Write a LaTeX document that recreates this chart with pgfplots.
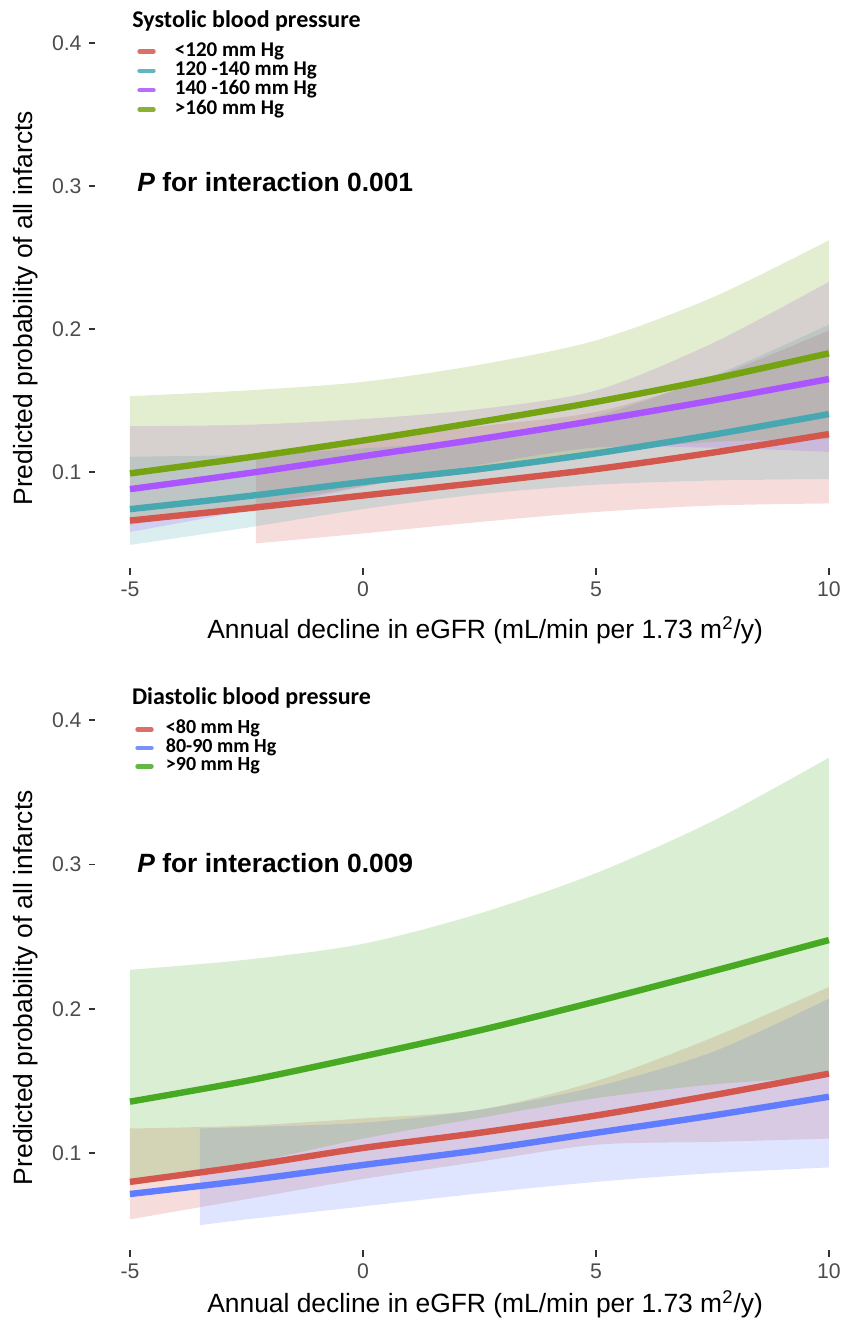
\documentclass[border=0pt]{standalone}
\usepackage{pgfplots}
\pgfplotsset{compat=1.18}
\usepackage{pgfplotstable}
\usepgfplotslibrary{fillbetween}
\usepackage{fontspec}
\setmainfont{Liberation Sans}
\newfontfamily\carlito{Carlito}

\definecolor{cred}{RGB}{212,87,77}
\definecolor{ccyan}{RGB}{72,168,178}
\definecolor{cpurple}{RGB}{170,85,255}
\definecolor{colive}{RGB}{117,163,18}
\definecolor{cblue}{RGB}{97,125,255}
\definecolor{cgreen}{RGB}{72,170,35}

% ---------- Systolic panel ----------
\pgfplotstableread{
x y
-5 0.066
-2.5 0.0745
0 0.0835
2.5 0.0925
5 0.102
7.5 0.1135
10 0.1265
}\sA
\pgfplotstableread{
x lo hi
-2.3 0.050 0.113
0 0.057 0.122
2.5 0.065 0.132
5 0.072 0.142
7.5 0.0765 0.166
10 0.078 0.199
}\sAband
\pgfplotstableread{
x y lo hi
-5 0.074 0.049 0.1107
-2.5 0.083 0.061 0.112
0 0.093 0.074 0.1165
2.5 0.102 0.0844 0.123
5 0.113 0.091 0.139
7.5 0.126 0.094 0.167
10 0.1405 0.095 0.203
}\sB
\pgfplotstableread{
x y lo hi
-5 0.088 0.058 0.132
-2.5 0.099 0.073 0.133
0 0.111 0.0896 0.137
2.5 0.123 0.105 0.144
5 0.136 0.117 0.157
7.5 0.150 0.117 0.190
10 0.165 0.114 0.233
}\sC
\pgfplotstableread{
x y lo hi
-5 0.099 0.063 0.153
-2.5 0.110 0.0757 0.157
0 0.122 0.090 0.163
2.5 0.135 0.103 0.175
5 0.149 0.114 0.192
7.5 0.165 0.121 0.222
10 0.183 0.123 0.262
}\sD

% ---------- Diastolic panel ----------
\pgfplotstableread{
x y lo hi
-5 0.080 0.054 0.117
-2.5 0.091 0.068 0.119
0 0.1035 0.082 0.124
2.5 0.114 0.094 0.130
5 0.126 0.1057 0.1498
7.5 0.140 0.1077 0.180
10 0.155 0.110 0.215
}\dA
\pgfplotstableread{
x y
-5 0.0716
-2.5 0.081
0 0.0917
2.5 0.102
5 0.114
7.5 0.126
10 0.139
}\dB
\pgfplotstableread{
x lo hi
-3.5 0.050 0.117
-2.5 0.054 0.118
0 0.063 0.121
2.5 0.072 0.130
5 0.080 0.146
7.5 0.086 0.170
10 0.090 0.207
}\dBband
\pgfplotstableread{
x y lo hi
-5 0.1356 0.0775 0.227
-2.5 0.150 0.0925 0.234
0 0.167 0.110 0.245
2.5 0.185 0.1243 0.266
5 0.205 0.138 0.294
7.5 0.226 0.1475 0.330
10 0.2476 0.153 0.374
}\dC

\pgfplotsset{
  panel/.style={
    anchor=south west, scale only axis, width=375.1pt,
    xmin=-5.75, xmax=10.35, ymin=0.0325, ymax=0.4175,
    clip mode=individual,
    axis x line*=bottom, axis y line*=left,
    axis line style={draw=none,-},
    tick align=outside, major tick length=3.2pt,
    tick style={color=black!80, line width=0.8pt},
    xtick={-5,0,5,10}, xticklabels={-5,0,5,10},
    ytick={0.1,0.2,0.3,0.4}, yticklabels={0.1,0.2,0.3,0.4},
    ticklabel style={font=\fontsize{10.6}{12}\selectfont, text=black!70},
    xlabel={Annual decline in eGFR (mL/min per 1.73 m\textsuperscript{2}/y)},
    ylabel={Predicted probability of all infarcts},
    every axis x label/.style={at={(axis description cs:0.52,0)}, anchor=center,
      font=\fontsize{13.2}{15}\selectfont},
    every axis y label/.style={at={(axis description cs:-0.092,0.473)}, rotate=90,
      anchor=center, font=\fontsize{13.2}{15}\selectfont},
    legend cell align=left,
    legend image code/.code={\draw[#1] (0pt,0pt) -- (7pt,0pt);},
  },
  band/.style={fill=#1, fill opacity=0.2, draw=none, forget plot},
  bline/.style={draw=#1, line width=3.2pt, smooth, forget plot},
  nop/.style={draw=none, smooth, forget plot},
}

\begin{document}
\begin{tikzpicture}

\begin{axis}[panel, at={(47.5pt,378.75pt)}, height=275.25pt,
  xlabel style={yshift=-30.75pt},
  legend style={at={(axis cs:-4.85,0.4012)}, anchor=north west, draw=none, fill=none,
    inner sep=0pt, row sep=0pt,
    font=\carlito\bfseries\fontsize{10.5}{10}\selectfont,
    nodes={inner sep=0.3pt, text height=6.9pt, text depth=2.2pt},
    /tikz/every odd column/.append style={column sep=9.3pt}}]
  % bands
  \addplot[nop, name path=aU] table[x=x,y=hi]{\sAband};
  \addplot[nop, name path=aL] table[x=x,y=lo]{\sAband};
  \addplot[band=cred] fill between[of=aU and aL];
  \addplot[nop, name path=bU] table[x=x,y=hi]{\sB};
  \addplot[nop, name path=bL] table[x=x,y=lo]{\sB};
  \addplot[band=ccyan] fill between[of=bU and bL];
  \addplot[nop, name path=cU] table[x=x,y=hi]{\sC};
  \addplot[nop, name path=cL] table[x=x,y=lo]{\sC};
  \addplot[band=cpurple] fill between[of=cU and cL];
  \addplot[nop, name path=dU] table[x=x,y=hi]{\sD};
  \addplot[nop, name path=dL] table[x=x,y=lo]{\sD};
  \addplot[band=colive] fill between[of=dU and dL];
  % lines
  \addplot[bline=cred] table[x=x,y=y]{\sA};
  \addplot[bline=ccyan] table[x=x,y=y]{\sB};
  \addplot[bline=cpurple] table[x=x,y=y]{\sC};
  \addplot[bline=colive] table[x=x,y=y]{\sD};
  % legend
  \addlegendimage{draw=cred!85, line width=2.2pt, line cap=round}
  \addlegendentry{<120 mm Hg}
  \addlegendimage{draw=ccyan!85, line width=2.2pt, line cap=round}
  \addlegendentry{120 -140 mm Hg}
  \addlegendimage{draw=cpurple!85, line width=2.2pt, line cap=round}
  \addlegendentry{140 -160 mm Hg}
  \addlegendimage{draw=colive!85, line width=2.2pt, line cap=round}
  \addlegendentry{>160 mm Hg}
  \node[anchor=west, inner sep=0pt, font=\carlito\bfseries\fontsize{12}{12}\selectfont]
    at (axis cs:-4.957,0.4156) {Systolic blood pressure};
  \node[anchor=west, inner sep=0pt, font=\bfseries\fontsize{13.2}{15}\selectfont]
    at (axis cs:-4.85,0.3028) {\textit{P} for interaction 0.001};
\end{axis}

\begin{axis}[panel, at={(47.5pt,37.8pt)}, height=277.7pt,
  xlabel style={yshift=-26.8pt},
  legend style={at={(axis cs:-4.893,0.4002)}, anchor=north west, draw=none, fill=none,
    inner sep=0pt, row sep=0pt,
    font=\carlito\bfseries\fontsize{10}{10}\selectfont,
    nodes={inner sep=0.3pt, text height=6.5pt, text depth=2.1pt},
    /tikz/every odd column/.append style={column sep=5.8pt}}]
  \addplot[nop, name path=eU] table[x=x,y=hi]{\dA};
  \addplot[nop, name path=eL] table[x=x,y=lo]{\dA};
  \addplot[band=cred] fill between[of=eU and eL];
  \addplot[nop, name path=fU] table[x=x,y=hi]{\dBband};
  \addplot[nop, name path=fL] table[x=x,y=lo]{\dBband};
  \addplot[band=cblue] fill between[of=fU and fL];
  \addplot[nop, name path=gU] table[x=x,y=hi]{\dC};
  \addplot[nop, name path=gL] table[x=x,y=lo]{\dC};
  \addplot[band=cgreen] fill between[of=gU and gL];
  \addplot[bline=cred] table[x=x,y=y]{\dA};
  \addplot[bline=cblue] table[x=x,y=y]{\dB};
  \addplot[bline=cgreen] table[x=x,y=y]{\dC};
  \addlegendimage{draw=cred!85, line width=2.2pt, line cap=round}
  \addlegendentry{<80 mm Hg}
  \addlegendimage{draw=cblue!85, line width=2.2pt, line cap=round}
  \addlegendentry{80-90 mm Hg}
  \addlegendimage{draw=cgreen!85, line width=2.2pt, line cap=round}
  \addlegendentry{>90 mm Hg}
  \node[anchor=west, inner sep=0pt, font=\carlito\bfseries\fontsize{12}{12}\selectfont]
    at (axis cs:-4.964,0.4153) {Diastolic blood pressure};
  \node[anchor=west, inner sep=0pt, font=\bfseries\fontsize{13.2}{15}\selectfont]
    at (axis cs:-4.85,0.301) {\textit{P} for interaction 0.009};
\end{axis}
\pgfresetboundingbox
\path (0,0) rectangle (422pt,663pt);
\end{tikzpicture}
\end{document}
